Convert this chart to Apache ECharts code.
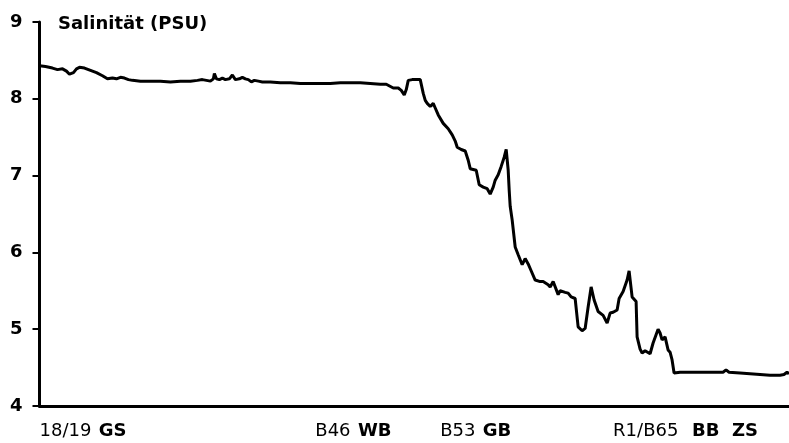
<!DOCTYPE html>
<html><head><meta charset="utf-8">
<script src="https://cdn.jsdelivr.net/npm/echarts@6/dist/echarts.min.js"></script>
<style>html,body{margin:0;padding:0;background:#fff}#c{width:789px;height:443px}</style>
</head><body><div id="c"></div>
<script>
// distance along transect (arbitrary units)
const distance = [0,6,13,18,23,27,30,34,37,40,45,51,57,63,68,73,77,81,85,89,93,101,111,121,131,141,151,158,163,167,171,174,175,177,180,183,186,190,193,196,200,203,206,209,212,215,219,223,231,241,251,261,271,281,291,301,311,321,331,341,347,354,359,362,365,367,369,373,377,381,383,384,386,388,391,394,396,399,404,409,413,416,418,422,426,429,431,434,437,440,444,448,451,454,456,459,462,465,467,468,469,470,471,473,476,479,481,483,486,489,491,496,501,504,509,511,514,515,519,521,523,526,529,532,534,536,539,543,546,549,552,555,559,564,568,571,574,576,578,580,584,588,590,593,597,598,601,603,606,608,611,614,619,621,623,626,629,631,633,635,641,661,676,681,684,687,690,701,711,721,731,741,745,748,750];
const salinity = [8.43,8.42,8.40,8.38,8.39,8.36,8.32,8.34,8.39,8.41,8.40,8.37,8.34,8.30,8.26,8.27,8.26,8.28,8.27,8.25,8.24,8.23,8.23,8.23,8.22,8.23,8.23,8.24,8.25,8.24,8.23,8.26,8.33,8.26,8.25,8.27,8.25,8.26,8.31,8.25,8.26,8.28,8.26,8.25,8.22,8.24,8.23,8.22,8.22,8.21,8.21,8.20,8.20,8.20,8.20,8.21,8.21,8.21,8.20,8.19,8.19,8.14,8.14,8.11,8.05,8.12,8.24,8.25,8.25,8.25,8.23,8.07,7.98,7.94,7.90,7.94,7.88,7.79,7.68,7.61,7.53,7.45,7.37,7.34,7.32,7.20,7.09,7.08,7.07,6.88,6.85,6.83,6.76,6.85,6.94,7.01,7.12,7.24,7.34,7.34,7.07,6.81,6.60,6.42,6.07,5.97,5.95,5.84,5.92,5.85,5.79,5.64,5.62,5.62,5.58,5.55,5.62,5.60,5.45,5.50,5.49,5.48,5.47,5.42,5.42,5.40,5.03,4.98,5.01,5.29,5.55,5.38,5.23,5.18,5.08,5.21,5.22,5.23,5.25,5.40,5.49,5.64,5.76,5.42,5.36,4.90,4.74,4.69,4.72,4.73,4.68,4.82,5.00,4.95,4.86,4.90,4.73,4.70,4.60,4.43,4.44,4.44,4.44,4.44,4.44,4.47,4.44,4.43,4.42,4.41,4.40,4.40,4.41,4.44,4.42];
const stationPos = [0, 276, 401, 574];
const stationCode = ['18/19', 'B46', 'B53', 'R1/B65'];
const stationName = ['GS', 'WB', 'GB', ' BB  ZS'];
const yTicks = [4, 5, 6, 7, 8, 9];
const yTitle = 'Salinität (PSU)';

const FONT = 'DejaVu Sans';
const data = distance.map((d, i) => [d, salinity[i]]);
const chart = echarts.init(document.getElementById('c'), null, {renderer: 'canvas'});
chart.setOption({
  animation: false,
  backgroundColor: '#fff',
  title: {
    text: yTitle, left: 53, top: 10,
    textStyle: {fontFamily: FONT, fontWeight: 'bold', fontSize: 18, color: '#000'}
  },
  grid: {left: 39.5, right: 0, top: 22, bottom: 37, containLabel: false},
  xAxis: {
    type: 'value', min: 0, max: 750,
    axisLine: {show: true, onZero: false, lineStyle: {color: '#000', width: 3}},
    axisTick: {show: false},
    splitLine: {show: false},
    axisLabel: {
      customValues: stationPos,
      align: 'left', margin: 16,
      formatter: (v) => {
        const i = stationPos.indexOf(v);
        return i < 0 ? '' : '{n|' + stationCode[i] + '} {b|' + stationName[i] + '}';
      },
      rich: {
        n: {fontFamily: FONT, fontSize: 18, color: '#000'},
        b: {fontFamily: FONT, fontSize: 18, fontWeight: 'bold', color: '#000', padding: [0, 0, 0, 4]}
      }
    }
  },
  yAxis: {
    type: 'value', min: yTicks[0], max: yTicks[yTicks.length - 1], interval: 1,
    axisLine: {show: true, lineStyle: {color: '#000', width: 3}},
    axisTick: {show: true, length: 7, lineStyle: {color: '#000', width: 2}},
    splitLine: {show: false},
    axisLabel: {margin: 17, fontFamily: FONT, fontWeight: 'bold', fontSize: 18, color: '#000', padding: [3, 0, 0, 0]}
  },
  series: [{
    type: 'line', data: data, showSymbol: false, symbol: 'none',
    lineStyle: {color: '#000', width: 3}, clip: false
  }]
});
</script></body></html>
